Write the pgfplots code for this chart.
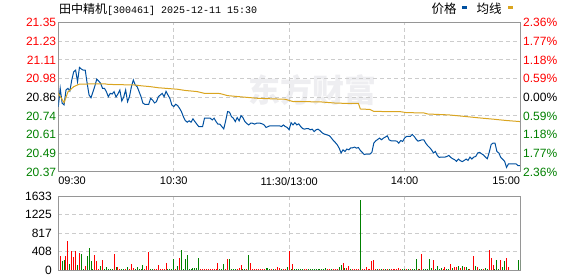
\documentclass[border=0pt]{standalone}
\usepackage{pgfplots}
\pgfplotsset{compat=1.18}
\usepackage{fontspec}
\setmainfont{Liberation Sans}
\newfontfamily\cjk{Noto Sans CJK SC}
\newfontfamily\mono{Liberation Mono}
\definecolor{upred}{RGB}{255,0,0}
\definecolor{dngreen}{RGB}{0,128,0}
\definecolor{priceblue}{RGB}{0,80,160}
\definecolor{avggold}{RGB}{218,165,32}
\definecolor{framegray}{RGB}{150,150,150}
\definecolor{gridgray}{RGB}{204,204,204}
\definecolor{wmgray}{RGB}{238,238,241}
\begin{document}
\begin{tikzpicture}[x=1pt,y=1pt]
\useasboundingbox (0,0) rectangle (578,276);
% watermark
\node[text=wmgray, inner sep=0, font={\fontsize{32}{34}\selectfont\cjk\bfseries}] at (312,186) {东方财富};
% title
\node[anchor=west, inner sep=0] at (59,267) {\fontsize{12}{14}\selectfont\cjk 田中精机\mono\fontsize{10}{12}\selectfont[300461] 2025-12-11 15:30};
% legend
\node[anchor=west, inner sep=0] at (431.5,267.5) {\fontsize{12.5}{14}\selectfont\cjk 价格};
\fill[priceblue] (462.3,267.3) rectangle (467.3,270);
\node[anchor=west, inner sep=0] at (476.5,267.5) {\fontsize{12.5}{14}\selectfont\cjk 均线};
\fill[avggold] (508.3,267.3) rectangle (513.3,270);

\pgfplotsset{
  panel/.style={
    scale only axis, anchor=south west, width=461.7pt,
    xmin=0, xmax=240,
    axis line style={draw=framegray, line width=1pt},
    major tick length=0pt,
    xtick style={draw=none}, ytick style={draw=none},
    grid=major,
    grid style={draw=gridgray, line width=1pt, dash pattern=on 4pt off 3pt},
    tick label style={font=\fontsize{12}{14}\selectfont},
  }
}
% price panel
\begin{axis}[panel, at={(58.3pt,104pt)}, height=149.4pt,
  ymin=20.3677, ymax=21.3523,
  xtick={0,60,120,180,240},
  xticklabels={\makebox[0pt][l]{09:30},10:30,11:30/13:00,14:00,\makebox[0pt][r]{15:00}},
  xticklabel style={font=\fontsize{11}{13}\selectfont, inner sep=0pt, anchor=north, yshift=-5pt},
  ytick={20.3677,20.4908,20.6139,20.737,20.86,20.983,21.106,21.229,21.3523},
  yticklabels={\textcolor{dngreen}{20.37},\textcolor{dngreen}{20.49},\textcolor{dngreen}{20.61},\textcolor{dngreen}{20.74},20.86,\textcolor{upred}{20.98},\textcolor{upred}{21.11},\textcolor{upred}{21.23},\textcolor{upred}{21.35}},
  yticklabel style={inner sep=0pt, anchor=east, xshift=-2pt},
]
\addplot[priceblue, line width=1pt, mark=none] coordinates {
(0,20.798) (1,20.919) (2,20.821) (3,20.810) (4,20.908) (5,20.919) (6,20.901) (7,20.974) (8,21.028) (9,21.039) (10,20.962) (11,21.057) (12,21.046) (13,21.039) (14,21.039) (15,20.952) (16,20.875) (17,20.857) (18,20.895) (19,20.934) (20,20.980) (21,20.967) (22,20.952) (23,20.919) (24,20.919) (25,20.897) (26,20.864) (27,20.886) (28,20.882) (29,20.897) (30,20.862) (31,20.882) (32,20.908) (33,20.836) (34,20.862) (35,20.908) (36,20.831) (37,20.864) (38,20.930) (39,20.974) (40,20.941) (41,20.930) (42,20.897) (43,20.864) (44,20.821) (45,20.814) (46,20.814) (47,20.814) (48,20.853) (49,20.842) (50,20.823) (51,20.831) (52,20.864) (53,20.875) (54,20.886) (55,20.864) (56,20.899) (57,20.875) (58,20.853) (59,20.810) (60,20.798) (61,20.814) (62,20.806) (63,20.788) (64,20.766) (65,20.733) (66,20.707) (67,20.696) (68,20.705) (69,20.696) (70,20.718) (71,20.700) (72,20.683) (73,20.667) (74,20.667) (75,20.667) (76,20.722) (77,20.722) (78,20.722) (79,20.722) (80,20.711) (81,20.722) (82,20.700) (83,20.683) (84,20.683) (85,20.667) (86,20.652) (87,20.705) (88,20.766) (89,20.762) (90,20.733) (91,20.722) (92,20.700) (93,20.726) (94,20.705) (95,20.739) (96,20.726) (97,20.700) (98,20.687) (99,20.678) (100,20.689) (101,20.689) (102,20.683) (103,20.689) (104,20.689) (105,20.689) (106,20.685) (107,20.678) (108,20.661) (109,20.667) (110,20.672) (111,20.672) (112,20.672) (113,20.672) (114,20.672) (115,20.672) (116,20.667) (117,20.678) (118,20.667) (119,20.661) (120,20.646) (121,20.693) (122,20.678) (123,20.693) (124,20.678) (125,20.685) (126,20.667) (127,20.654) (128,20.650) (129,20.654) (130,20.654) (131,20.646) (132,20.650) (133,20.634) (134,20.646) (135,20.650) (136,20.641) (137,20.628) (138,20.619) (139,20.615) (140,20.611) (141,20.606) (142,20.591) (143,20.575) (144,20.562) (145,20.547) (146,20.525) (147,20.493) (148,20.514) (149,20.503) (150,20.519) (151,20.514) (152,20.527) (153,20.527) (154,20.532) (155,20.525) (156,20.529) (157,20.510) (158,20.497) (159,20.483) (160,20.486) (161,20.486) (162,20.486) (163,20.497) (164,20.558) (165,20.573) (166,20.582) (167,20.591) (168,20.580) (169,20.591) (170,20.598) (171,20.606) (172,20.580) (173,20.573) (174,20.573) (175,20.573) (176,20.571) (177,20.558) (178,20.575) (179,20.569) (180,20.591) (181,20.602) (182,20.602) (183,20.602) (184,20.615) (185,20.602) (186,20.584) (187,20.571) (188,20.575) (189,20.580) (190,20.580) (191,20.558) (192,20.541) (193,20.529) (194,20.514) (195,20.493) (196,20.503) (197,20.477) (198,20.464) (199,20.466) (200,20.466) (201,20.466) (202,20.470) (203,20.477) (204,20.464) (205,20.455) (206,20.449) (207,20.438) (208,20.453) (209,20.442) (210,20.436) (211,20.444) (212,20.453) (213,20.444) (214,20.466) (215,20.453) (216,20.466) (217,20.470) (218,20.493) (219,20.497) (220,20.488) (221,20.480) (222,20.466) (223,20.455) (224,20.497) (225,20.549) (226,20.558) (227,20.558) (228,20.503) (229,20.493) (230,20.464) (231,20.451) (232,20.438) (233,20.398) (234,20.421) (235,20.421) (236,20.421) (237,20.421) (238,20.421) (239,20.409) (240,20.409)
};
\addplot[avggold, line width=1pt, mark=none] coordinates {
(0,20.886) (3,20.825) (5,20.895) (8,20.930) (11,20.947) (24,20.949) (26,20.945) (40,20.941) (43,20.936) (48,20.930) (52,20.923) (56,20.919) (62,20.913) (66,20.905) (72,20.898) (76,20.886) (84,20.885) (88,20.871) (94,20.864) (104,20.853) (118,20.847) (122,20.832) (136,20.830) (145,20.821) (156,20.820) (157,20.783) (162,20.780) (164,20.767) (178,20.765) (181,20.759) (190,20.757) (192,20.750) (203,20.744) (212,20.733) (219,20.724) (226,20.716) (233,20.707) (240,20.700)
};
\end{axis}
% right percentage axis
\begin{axis}[scale only axis, anchor=south west, at={(58.3pt,104pt)}, width=461.7pt, height=149.4pt,
  xmin=0, xmax=240, ymin=20.3677, ymax=21.3523,
  axis x line=none, axis y line*=right,
  axis line style={draw=framegray, line width=1pt},
  major tick length=0pt, ytick style={draw=none},
  ytick={20.3677,20.4908,20.6139,20.737,20.86,20.983,21.106,21.229,21.3523},
  yticklabels={\textcolor{dngreen}{2.36\%},\textcolor{dngreen}{1.77\%},\textcolor{dngreen}{1.18\%},\textcolor{dngreen}{0.59\%},0.00\%,\textcolor{upred}{0.59\%},\textcolor{upred}{1.18\%},\textcolor{upred}{1.77\%},\textcolor{upred}{2.36\%}},
  yticklabel style={font=\fontsize{12}{14}\selectfont, inner sep=0pt, anchor=west, xshift=3pt},
]
\end{axis}
% volume panel
\begin{axis}[panel, at={(58.3pt,6pt)}, height=73.7pt,
  ymin=0, ymax=1633,
  xtick={0,60,120,180,240}, xticklabels={},
  ytick={0,408,817,1225,1633},
  yticklabels={0,408,817,1225,1633},
  yticklabel style={inner sep=0pt, anchor=east, xshift=-6.3pt},
]
\addplot[ycomb, upred, line width=1pt, mark=none] coordinates {
(1,302) (4,302) (5,643) (7,416) (8,280) (9,416) (11,370) (14,98) (19,325) (20,189) (21,30) (23,212) (29,348) (31,75) (32,30) (35,30) (37,30) (38,144) (39,50) (45,30) (46,98) (47,393) (50,30) (51,30) (52,121) (53,30) (54,30) (55,30) (56,166) (61,30) (63,257) (74,30) (75,30) (76,30) (77,30) (78,30) (79,30) (80,30) (81,30) (82,30) (83,166) (87,30) (88,234) (93,30) (94,50) (95,121) (98,30) (100,166) (101,30) (102,30) (103,30) (104,30) (105,30) (106,30) (107,30) (111,30) (113,30) (114,75) (115,50) (117,30) (118,30) (120,416)
(122,144) (128,30) (129,30) (140,30) (141,30) (143,30) (144,30) (145,30) (148,166) (150,50) (151,98) (153,30) (154,30) (155,30) (156,30) (158,30) (159,30) (160,75) (161,30) (162,30) (163,189) (164,212) (165,30) (167,30) (169,30) (171,30) (173,30) (174,30) (175,30) (176,30) (177,50) (178,30) (181,30) (183,30) (187,30) (189,348) (195,212) (200,30) (201,75) (204,144) (206,75) (207,75) (209,50) (211,75) (214,30) (216,302) (218,75) (221,30) (224,438) (225,257) (226,121) (230,212) (233,257) (234,75)
};
\addplot[ycomb, dngreen, line width=1pt, mark=none] coordinates {
(2,189) (3,212) (6,144) (10,121) (12,348) (13,30) (15,302) (16,484) (17,189) (18,30) (22,98) (24,30) (25,75) (26,30) (27,30) (28,30) (30,60) (33,30) (34,30) (36,75) (40,30) (41,75) (42,30) (43,30) (44,121) (48,30) (49,30) (57,30) (58,30) (59,30) (60,234) (62,98) (64,438) (65,30) (66,234) (67,325) (68,30) (69,30) (70,45) (71,45) (72,45) (73,257) (84,30) (85,30) (86,144) (89,234) (90,30) (91,30) (92,30) (96,30) (97,30) (99,325) (108,50) (109,50) (110,30) (112,30) (116,30) (119,75)
(121,30) (123,30) (124,30) (125,30) (126,30) (127,30) (130,30) (131,30) (132,30) (133,30) (134,30) (135,30) (136,30) (137,30) (138,30) (139,50) (142,30) (146,75) (147,121) (149,50) (152,30) (157,1545) (166,30) (168,30) (170,30) (172,30) (179,30) (180,30) (182,30) (184,30) (185,30) (186,234) (188,30) (190,30) (191,30) (192,30) (193,234) (194,50) (196,30) (197,98) (198,30) (199,50) (202,30) (203,30) (205,50) (208,98) (210,98) (212,75) (213,30) (217,98) (219,30) (220,30) (222,50) (223,30) (227,30) (228,212) (229,30) (231,75) (232,189) (239,212) (240,230)
};
\end{axis}
\end{tikzpicture}
\end{document}
